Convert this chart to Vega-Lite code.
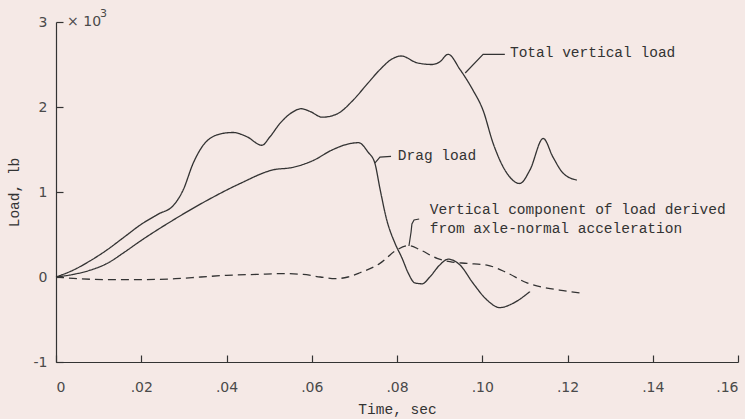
{
  "$schema": "https://vega.github.io/schema/vega-lite/v6.json",
  "width": 682,
  "height": 340,
  "autosize": "none",
  "padding": {"left": 56, "top": 22, "right": 7, "bottom": 57},
  "background": "#f5e9e6",
  "config": {
    "view": {"stroke": null},
    "axis": {"grid": false}
  },
  "datasets": {
    "curves": [
      {"series": "Total", "t": 0, "load": 0},
      {"series": "Total", "t": 0.004, "load": 0.08},
      {"series": "Total", "t": 0.008, "load": 0.19},
      {"series": "Total", "t": 0.012, "load": 0.32},
      {"series": "Total", "t": 0.016, "load": 0.47},
      {"series": "Total", "t": 0.02, "load": 0.62},
      {"series": "Total", "t": 0.024, "load": 0.74},
      {"series": "Total", "t": 0.0275, "load": 0.84},
      {"series": "Total", "t": 0.0298, "load": 1.02},
      {"series": "Total", "t": 0.0322, "load": 1.34},
      {"series": "Total", "t": 0.0354, "load": 1.6},
      {"series": "Total", "t": 0.0392, "load": 1.69},
      {"series": "Total", "t": 0.0415, "load": 1.7},
      {"series": "Total", "t": 0.0448, "load": 1.65},
      {"series": "Total", "t": 0.0483, "load": 1.55},
      {"series": "Total", "t": 0.0502, "load": 1.65},
      {"series": "Total", "t": 0.0526, "load": 1.81},
      {"series": "Total", "t": 0.0555, "load": 1.94},
      {"series": "Total", "t": 0.0575, "load": 1.98},
      {"series": "Total", "t": 0.0595, "load": 1.95},
      {"series": "Total", "t": 0.0625, "load": 1.88},
      {"series": "Total", "t": 0.066, "load": 1.92},
      {"series": "Total", "t": 0.0697, "load": 2.08},
      {"series": "Total", "t": 0.073, "load": 2.27},
      {"series": "Total", "t": 0.076, "load": 2.44},
      {"series": "Total", "t": 0.079, "load": 2.57},
      {"series": "Total", "t": 0.081, "load": 2.6},
      {"series": "Total", "t": 0.0847, "load": 2.52},
      {"series": "Total", "t": 0.0882, "load": 2.5},
      {"series": "Total", "t": 0.09, "load": 2.53},
      {"series": "Total", "t": 0.092, "load": 2.62},
      {"series": "Total", "t": 0.0948, "load": 2.44},
      {"series": "Total", "t": 0.0978, "load": 2.2},
      {"series": "Total", "t": 0.1002, "load": 1.96},
      {"series": "Total", "t": 0.1025, "load": 1.58},
      {"series": "Total", "t": 0.1058, "load": 1.22},
      {"series": "Total", "t": 0.1088, "load": 1.1},
      {"series": "Total", "t": 0.1112, "load": 1.26},
      {"series": "Total", "t": 0.1143, "load": 1.63},
      {"series": "Total", "t": 0.1166, "load": 1.41},
      {"series": "Total", "t": 0.119, "load": 1.22},
      {"series": "Total", "t": 0.1222, "load": 1.14},
      {"series": "Drag", "t": 0, "load": 0},
      {"series": "Drag", "t": 0.004, "load": 0.03},
      {"series": "Drag", "t": 0.008, "load": 0.08},
      {"series": "Drag", "t": 0.012, "load": 0.16},
      {"series": "Drag", "t": 0.016, "load": 0.29},
      {"series": "Drag", "t": 0.0197, "load": 0.42},
      {"series": "Drag", "t": 0.0275, "load": 0.67},
      {"series": "Drag", "t": 0.0354, "load": 0.9},
      {"series": "Drag", "t": 0.0432, "load": 1.1},
      {"series": "Drag", "t": 0.0509, "load": 1.26},
      {"series": "Drag", "t": 0.0556, "load": 1.29},
      {"series": "Drag", "t": 0.0603, "load": 1.37},
      {"series": "Drag", "t": 0.065, "load": 1.5},
      {"series": "Drag", "t": 0.069, "load": 1.57},
      {"series": "Drag", "t": 0.071, "load": 1.58},
      {"series": "Drag", "t": 0.0732, "load": 1.47},
      {"series": "Drag", "t": 0.0748, "load": 1.34},
      {"series": "Drag", "t": 0.076, "load": 1.04},
      {"series": "Drag", "t": 0.0776, "load": 0.67},
      {"series": "Drag", "t": 0.0795, "load": 0.4},
      {"series": "Drag", "t": 0.0812, "load": 0.22},
      {"series": "Drag", "t": 0.0826, "load": 0.05},
      {"series": "Drag", "t": 0.0842, "load": -0.07},
      {"series": "Drag", "t": 0.0859, "load": -0.08},
      {"series": "Drag", "t": 0.0877, "load": 0.0},
      {"series": "Drag", "t": 0.09, "load": 0.14},
      {"series": "Drag", "t": 0.092, "load": 0.21},
      {"series": "Drag", "t": 0.0948, "load": 0.14},
      {"series": "Drag", "t": 0.0978, "load": -0.07},
      {"series": "Drag", "t": 0.1011, "load": -0.27},
      {"series": "Drag", "t": 0.1041, "load": -0.36},
      {"series": "Drag", "t": 0.1072, "load": -0.31},
      {"series": "Drag", "t": 0.1112, "load": -0.17},
      {"series": "Vertical", "t": 0, "load": 0},
      {"series": "Vertical", "t": 0.005, "load": -0.02},
      {"series": "Vertical", "t": 0.012, "load": -0.03},
      {"series": "Vertical", "t": 0.02, "load": -0.03},
      {"series": "Vertical", "t": 0.028, "load": -0.02},
      {"series": "Vertical", "t": 0.034, "load": 0.0},
      {"series": "Vertical", "t": 0.04, "load": 0.02},
      {"series": "Vertical", "t": 0.047, "load": 0.03},
      {"series": "Vertical", "t": 0.053, "load": 0.04},
      {"series": "Vertical", "t": 0.058, "load": 0.03},
      {"series": "Vertical", "t": 0.062, "load": 0.0},
      {"series": "Vertical", "t": 0.0655, "load": -0.02},
      {"series": "Vertical", "t": 0.0685, "load": 0.0},
      {"series": "Vertical", "t": 0.0713, "load": 0.05},
      {"series": "Vertical", "t": 0.076, "load": 0.16},
      {"series": "Vertical", "t": 0.08, "load": 0.32},
      {"series": "Vertical", "t": 0.0828, "load": 0.37},
      {"series": "Vertical", "t": 0.0854, "load": 0.32},
      {"series": "Vertical", "t": 0.0894, "load": 0.22},
      {"series": "Vertical", "t": 0.0924, "load": 0.18},
      {"series": "Vertical", "t": 0.0964, "load": 0.16},
      {"series": "Vertical", "t": 0.1011, "load": 0.14},
      {"series": "Vertical", "t": 0.1058, "load": 0.05},
      {"series": "Vertical", "t": 0.1105, "load": -0.07},
      {"series": "Vertical", "t": 0.1152, "load": -0.13},
      {"series": "Vertical", "t": 0.119, "load": -0.16},
      {"series": "Vertical", "t": 0.1234, "load": -0.19}
    ],
    "leaders": [
      {"id": "total", "k": 1, "t": 0.096, "load": 2.4},
      {"id": "total", "k": 2, "t": 0.1002, "load": 2.62},
      {"id": "total", "k": 3, "t": 0.1053, "load": 2.62},
      {"id": "drag", "k": 1, "t": 0.0748, "load": 1.34},
      {"id": "drag", "k": 2, "t": 0.076, "load": 1.41},
      {"id": "drag", "k": 3, "t": 0.0786, "load": 1.42},
      {"id": "vert", "k": 1, "t": 0.0828, "load": 0.365},
      {"id": "vert", "k": 2, "t": 0.0833, "load": 0.529},
      {"id": "vert", "k": 3, "t": 0.0835, "load": 0.624},
      {"id": "vert", "k": 4, "t": 0.084, "load": 0.671},
      {"id": "vert", "k": 5, "t": 0.0852, "load": 0.682}
    ],
    "labels": [
      {"label": "Total vertical load", "t": 0.1065, "load": 2.635},
      {"label": "Drag load", "t": 0.0802, "load": 1.42},
      {"label": "Vertical component of load derived", "t": 0.0877, "load": 0.788},
      {"label": "from axle-normal acceleration", "t": 0.0877, "load": 0.565}
    ],
    "mult": [
      {"label": "× 10", "t": 0.0026, "load": 3.0, "part": "base"},
      {"label": "3", "t": 0.0103, "load": 3.09, "part": "exp"}
    ]
  },
  "encoding": {
    "x": {
      "field": "t",
      "type": "quantitative",
      "scale": {"domain": [0, 0.16], "nice": false, "zero": false},
      "axis": {
        "values": [0, 0.02, 0.04, 0.06, 0.08, 0.1, 0.12, 0.14, 0.16],
        "labelExpr": "datum.value == 0 ? '0' : replace(format(datum.value, '.2f'), '0.', '.')",
        "domainColor": "#333333",
        "domainWidth": 1.2,
        "tickColor": "#333333",
        "tickWidth": 1.2,
        "tickSize": -7,
        "labelFont": "DejaVu Sans",
        "labelFontSize": 14,
        "labelColor": "#4a4a4a",
        "labelPadding": 32,
        "labelBaseline": "middle",
        "title": "Time, sec",
        "titleFont": "Liberation Mono",
        "titleFontSize": 14.5,
        "titleFontWeight": "normal",
        "titleColor": "#333333",
        "titleX": 341,
        "titleY": 47,
        "titleBaseline": "middle",
        "titleAlign": "center"
      }
    },
    "y": {
      "field": "load",
      "type": "quantitative",
      "scale": {"domain": [-1, 3], "nice": false, "zero": false},
      "axis": {
        "values": [-1, 0, 1, 2, 3],
        "labelExpr": "datum.value < 0 ? '-' + abs(datum.value) : '' + datum.value",
        "domainColor": "#333333",
        "domainWidth": 1.2,
        "tickColor": "#333333",
        "tickWidth": 1.2,
        "tickSize": -7,
        "labelFont": "DejaVu Sans",
        "labelFontSize": 14,
        "labelColor": "#4a4a4a",
        "labelPadding": 16,
        "title": "Load, lb",
        "titleFont": "Liberation Mono",
        "titleFontSize": 14.5,
        "titleFontWeight": "normal",
        "titleColor": "#333333",
        "titleAngle": -90,
        "titleX": -42,
        "titleY": 170,
        "titleBaseline": "middle",
        "titleAlign": "center"
      }
    }
  },
  "layer": [
    {
      "mark": {"type": "rule", "color": "#333333", "strokeWidth": 1.2},
      "encoding": {"y": {"datum": 0}, "x": null}
    },
    {
      "data": {"name": "curves"},
      "mark": {"type": "line", "interpolate": "monotone", "color": "#333333", "strokeWidth": 1.3},
      "encoding": {
        "detail": {"field": "series"},
        "strokeDash": {
          "field": "series",
          "type": "nominal",
          "scale": {"domain": ["Total", "Drag", "Vertical"], "range": [[1, 0], [1, 0], [8, 5]]},
          "legend": null
        }
      }
    },
    {
      "data": {"name": "leaders"},
      "mark": {"type": "line", "color": "#333333", "strokeWidth": 1.2},
      "encoding": {
        "detail": {"field": "id"},
        "order": {"field": "k", "type": "quantitative"}
      }
    },
    {
      "data": {"name": "labels"},
      "mark": {"type": "text", "align": "left", "baseline": "middle", "font": "Liberation Mono", "fontSize": 14.5, "color": "#333333"},
      "encoding": {"text": {"field": "label"}}
    },
    {
      "data": {"name": "mult"},
      "mark": {"type": "text", "align": "left", "baseline": "middle", "font": "DejaVu Sans", "color": "#4a4a4a"},
      "encoding": {
        "text": {"field": "label"},
        "size": {"field": "part", "type": "nominal", "scale": {"domain": ["base", "exp"], "range": [14, 11]}, "legend": null}
      }
    }
  ]
}
